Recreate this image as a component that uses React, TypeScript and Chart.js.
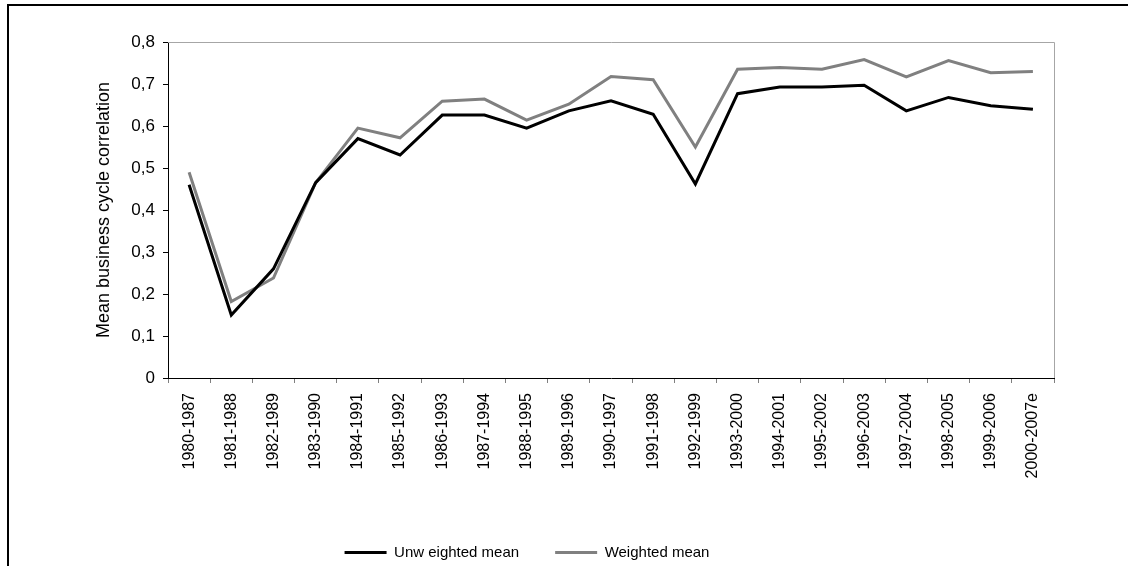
import React, { useEffect, useRef } from "react";
import { Chart, registerables } from "chart.js";

Chart.register(...registerables);

const categories = [
  "1980-1987", "1981-1988", "1982-1989", "1983-1990", "1984-1991", "1985-1992",
  "1986-1993", "1987-1994", "1988-1995", "1989-1996", "1990-1997", "1991-1998",
  "1992-1999", "1993-2000", "1994-2001", "1995-2002", "1996-2003", "1997-2004",
  "1998-2005", "1999-2006", "2000-2007e",
];

const unweightedMean = [
  0.46, 0.15, 0.26, 0.465, 0.57, 0.531, 0.626, 0.626, 0.595, 0.636, 0.66,
  0.628, 0.462, 0.677, 0.693, 0.693, 0.697, 0.636, 0.668, 0.648, 0.64,
];

const weightedMean = [
  0.49, 0.182, 0.238, 0.465, 0.595, 0.572, 0.659, 0.664, 0.614, 0.652, 0.718,
  0.71, 0.55, 0.735, 0.739, 0.735, 0.758, 0.717, 0.756, 0.727, 0.73,
];

const yTickLabels = ["0", "0,1", "0,2", "0,3", "0,4", "0,5", "0,6", "0,7", "0,8"];

const seriesNames = ["Unw eighted mean", "Weighted mean"];
const yTitle = "Mean business cycle correlation";

const FONT = "'Liberation Sans', Arial, sans-serif";

const plotFrame = {
  id: "plotFrame",
  beforeDatasetsDraw(chart: any) {
    const { ctx, chartArea } = chart;
    ctx.save();
    ctx.strokeStyle = "#a6a6a6";
    ctx.lineWidth = 1;
    ctx.beginPath();
    ctx.moveTo(chartArea.left, chartArea.top + 0.5);
    ctx.lineTo(chartArea.right + 0.5, chartArea.top + 0.5);
    ctx.lineTo(chartArea.right + 0.5, chartArea.bottom);
    ctx.stroke();
    ctx.restore();
  },
};

export default function App() {
  const ref = useRef<HTMLCanvasElement | null>(null);

  useEffect(() => {
    if (!ref.current) return;
    const chart = new Chart(ref.current, {
      type: "line",
      data: {
        labels: categories,
        datasets: [
          {
            label: seriesNames[0],
            data: unweightedMean,
            borderColor: "#000000",
            backgroundColor: "#000000",
            borderWidth: 3,
            pointRadius: 0,
            tension: 0,
          },
          {
            label: seriesNames[1],
            data: weightedMean,
            borderColor: "#808080",
            backgroundColor: "#808080",
            borderWidth: 3,
            pointRadius: 0,
            tension: 0,
          },
        ],
      },
      options: {
        responsive: false,
        animation: false,
        devicePixelRatio: 1,
        layout: { padding: { left: 0, right: 74, top: 42, bottom: 0 } },
        plugins: {
          tooltip: { enabled: false },
          legend: {
            position: "bottom",
            labels: {
              usePointStyle: true,
              pointStyle: "line",
              pointStyleWidth: 42,
              boxHeight: 15,
              padding: 36,
              color: "#000",
              font: { family: FONT, size: 15 },
            },
          },
        },
        scales: {
          x: {
            type: "category",
            offset: true,
            grid: {
              offset: true,
              drawOnChartArea: false,
              drawTicks: true,
              tickLength: 5,
              tickColor: "#808080",
            },
            border: { display: true, color: "#000", width: 1 },
            ticks: {
              autoSkip: false,
              minRotation: 90,
              maxRotation: 90,
              padding: 10,
              color: "#000",
              font: { family: FONT, size: 16 },
            },
            afterFit(scale: any) {
              scale.height = 131;
            },
          },
          y: {
            min: 0,
            max: 0.8,
            ticks: {
              stepSize: 0.1,
              padding: 8,
              color: "#000",
              font: { family: FONT, size: 17 },
              callback: (_v: any, i: number) => yTickLabels[i],
            },
            grid: {
              drawOnChartArea: false,
              drawTicks: true,
              tickLength: 5,
              tickColor: "#000",
            },
            border: { display: true, color: "#000", width: 1 },
            title: {
              display: true,
              text: yTitle,
              color: "#000",
              font: { family: FONT, size: 18 },
              padding: { top: 93, bottom: 0 },
            },
            afterFit(scale: any) {
              scale.width = 168;
            },
          },
        },
      },
      plugins: [plotFrame],
    });
    return () => chart.destroy();
  }, []);

  return (
    <div
      style={{
        position: "absolute",
        left: 0,
        top: 0,
        width: 1128,
        height: 566,
        overflow: "hidden",
        background: "#fff",
      }}
    >
      <canvas ref={ref} width={1128} height={570} style={{ display: "block" }} />
      <div
        style={{
          position: "absolute",
          left: 7,
          top: 4,
          right: -10,
          bottom: -10,
          borderLeft: "2px solid #000",
          borderTop: "2px solid #000",
          pointerEvents: "none",
        }}
      />
    </div>
  );
}
